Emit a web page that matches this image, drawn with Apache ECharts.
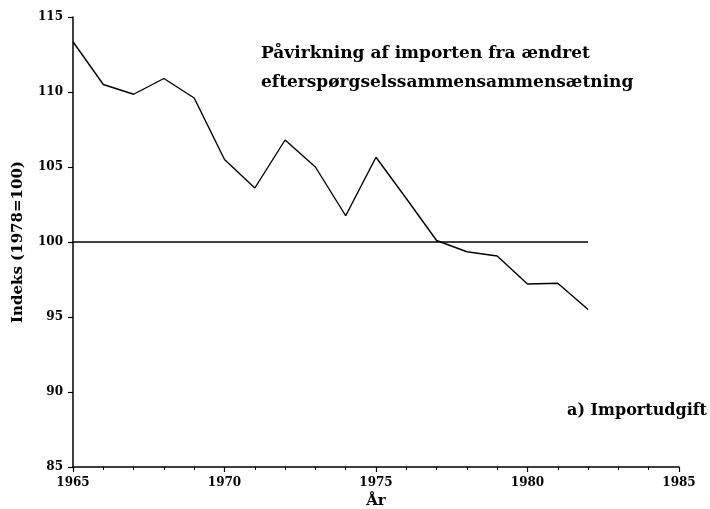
<!DOCTYPE html>
<html>
<head>
<meta charset="utf-8">
<script src="https://cdn.jsdelivr.net/npm/echarts@6/dist/echarts.min.js"></script>
<style>
  html, body { margin: 0; padding: 0; background: #fff; }
  #chart { width: 710px; height: 509px; }
</style>
</head>
<body>
<div id="chart"></div>
<script>
// aflæste værdier
const years = [1965, 1966, 1967, 1968, 1969, 1970, 1971, 1972, 1973, 1974, 1975, 1976, 1977, 1978, 1979, 1980, 1981, 1982]
const indeks = [113.35, 110.5, 109.85, 110.9, 109.6, 105.5, 103.6, 106.8, 105.0, 101.75, 105.65, 102.9, 100.1, 99.35, 99.07, 97.2, 97.25, 95.5]
const basis = 100
const titleLines = ['Påvirkning af importen fra ændret', 'efterspørgselssammensammensætning']
const subLabel = 'a) Importudgift'

const font = 'DejaVu Serif'
const myChart = echarts.init(document.getElementById('chart'))

const option = {
    backgroundColor: '#fff',
    animation: false,
    title: [
        {
            text: titleLines.join('\n'),
            left: 261,
            top: 39,
            padding: 0,
            textStyle: { fontFamily: font, fontSize: 17, fontWeight: 'bold', color: '#000', lineHeight: 29 }
        },
        {
            text: subLabel,
            right: 3,
            top: 403,
            padding: 0,
            textStyle: { fontFamily: font, fontSize: 16, fontWeight: 'bold', color: '#000' }
        }
    ],
    grid: { left: 73, right: 31, top: 17, bottom: 42, containLabel: false, outerBoundsMode: 'none' },
    xAxis: {
        type: 'value',
        min: 1965,
        max: 1985,
        interval: 5,
        name: 'År',
        nameLocation: 'middle',
        nameGap: 27,
        nameTextStyle: { fontFamily: font, fontSize: 15, fontWeight: 'bold', color: '#000' },
        axisLine: { lineStyle: { color: '#000', width: 1.5 } },
        axisTick: { length: 5, lineStyle: { color: '#000', width: 1.2 } },
        minorTick: { show: true, splitNumber: 5, length: 3, lineStyle: { color: '#000' } },
        axisLabel: { fontFamily: font, fontSize: 12, fontWeight: 'bold', color: '#000', margin: 10, formatter: v => String(v) },
        splitLine: { show: false }
    },
    yAxis: {
        type: 'value',
        min: 85,
        max: 115,
        interval: 5,
        name: 'Indeks (1978=100)',
        nameLocation: 'middle',
        nameGap: 47,
        nameTextStyle: { fontFamily: font, fontSize: 15, fontWeight: 'bold', color: '#000' },
        axisLine: { show: true, lineStyle: { color: '#000', width: 1.5 } },
        axisTick: { show: true, length: 5, lineStyle: { color: '#000', width: 1.2 } },
        axisLabel: { fontFamily: font, fontSize: 12, fontWeight: 'bold', color: '#000', margin: 10 },
        splitLine: { show: false }
    },
    series: [
        {
            type: 'line',
            data: years.map((y, i) => [y, indeks[i]]),
            symbol: 'none',
            lineStyle: { color: '#000', width: 1.4 },
            z: 3
        },
        {
            type: 'line',
            data: [[years[0], basis], [years[years.length - 1], basis]],
            symbol: 'none',
            lineStyle: { color: '#000', width: 1.4 },
            z: 2
        }
    ]
}
myChart.setOption(option)
</script>
</body>
</html>
